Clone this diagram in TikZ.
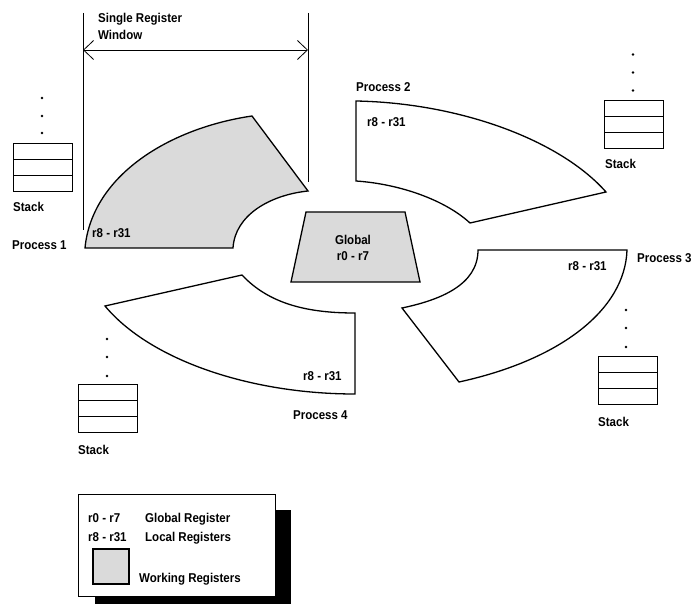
\documentclass[tikz,border=0pt]{standalone}
\usepackage{fontspec}
\setmainfont{Liberation Sans}[FakeStretch=0.9]
\usetikzlibrary{arrows.meta}
\definecolor{regfill}{RGB}{218,218,218}
\begin{document}
\begin{tikzpicture}[x=1pt,y=-1pt,
  lbl/.style={font=\fontsize{12.8}{14}\selectfont\bfseries, inner sep=0pt, anchor=base west},
  seg/.style={draw=black, line width=1.3pt, line join=miter},
  stackbox/.style={draw=black, line width=0.8pt},
  thinline/.style={draw=black, line width=0.8pt},
  dotmark/.style={fill=black, circle, inner sep=0pt, minimum size=2.6pt}]
\useasboundingbox (0,0) rectangle (691,604);

% ---- register window segments ----
% Process 1 (working, gray)
\filldraw[seg, fill=regfill] (85,248) .. controls (92,175) and (170,128) .. (252,116)
  -- (308,191) .. controls (270,195) and (235,215) .. (233,248) -- cycle;
% Process 2
\draw[seg] (356,101) .. controls (460,103) and (560,140) .. (606,192)
  -- (470,223) .. controls (445,200) and (400,184) .. (356,181) -- cycle;
% Process 3
\draw[seg] (478,250) -- (627,250) .. controls (625,310) and (560,360) .. (459,382)
  -- (402,308) .. controls (440,300) and (478,285) .. (478,250) -- cycle;
% Process 4
\draw[seg] (105,306) -- (242,275) .. controls (270,305) and (310,313) .. (355,313)
  -- (355,394) .. controls (250,394) and (150,360) .. (105,306) -- cycle;

% ---- global ----
\filldraw[seg, fill=regfill] (306,212) -- (405,212) -- (420,282) -- (291,282) -- cycle;
\node[lbl, anchor=base] (glob) at (353,245) {Global};
\node[lbl, anchor=base] (globr) at (353,261) {r0 - r7};

% ---- single register window ----
\coordinate (wl1) at (83,13);
\coordinate (wl2) at (83,230);
\coordinate (wr1) at (308,13);
\coordinate (wr2) at (308,182);
\draw[thinline] (wl1) -- (wl2);
\draw[thinline] (wr1) -- (wr2);
\coordinate (al) at (83,50);
\coordinate (ar) at (308,50);
\draw[thinline, {Straight Barb[length=10pt,width=19pt]}-{Straight Barb[length=10pt,width=19pt]}] (al) -- (ar);
\node[lbl] (srw1) at (98,22.5) {Single Register};
\node[lbl] (srw2) at (98,40) {Window};

% ---- labels in segments ----
\node[lbl] (p1) at (12,250) {Process 1};
\node[lbl] (r1) at (92,238) {r8 - r31};
\node[lbl] (p2) at (356,92) {Process 2};
\node[lbl] (r2) at (367,126.5) {r8 - r31};
\node[lbl] (p3) at (637,262.5) {Process 3};
\node[lbl] (r3) at (568,270) {r8 - r31};
\node[lbl] (p4) at (293,419) {Process 4};
\node[lbl] (r4) at (303,380.5) {r8 - r31};

% ---- stacks ----
% stack 1
\draw[stackbox] (13,143) rectangle (72,191);
\draw[stackbox] (13,159) -- (72,159);
\draw[stackbox] (13,175) -- (72,175);
\node[dotmark] (s1a) at (42,98) {};
\node[dotmark] (s1b) at (42,116) {};
\node[dotmark] (s1c) at (42,133) {};
\node[lbl] (s1) at (13,211.5) {Stack};
% stack 2
\draw[stackbox] (604,100) rectangle (663,148);
\draw[stackbox] (604,116) -- (663,116);
\draw[stackbox] (604,132) -- (663,132);
\node[dotmark] (s2a) at (633,54.5) {};
\node[dotmark] (s2b) at (633,72.5) {};
\node[dotmark] (s2c) at (633,90.5) {};
\node[lbl] (s2) at (605,169) {Stack};
% stack 3
\draw[stackbox] (598,356) rectangle (657,404);
\draw[stackbox] (598,372) -- (657,372);
\draw[stackbox] (598,388) -- (657,388);
\node[dotmark] (s3a) at (626,310) {};
\node[dotmark] (s3b) at (626,328) {};
\node[dotmark] (s3c) at (626,347) {};
\node[lbl] (s3) at (598,426.5) {Stack};
% stack 4
\draw[stackbox] (78,384) rectangle (137,432.5);
\draw[stackbox] (78,400.5) -- (137,400.5);
\draw[stackbox] (78,416.5) -- (137,416.5);
\node[dotmark] (s4a) at (107,339) {};
\node[dotmark] (s4b) at (107,357) {};
\node[dotmark] (s4c) at (107,376) {};
\node[lbl] (s4) at (78,454) {Stack};

% ---- legend ----
\fill[black] (95,510) rectangle (291,606);
\draw[thinline, fill=white] (78,494) rectangle (275,596);
\node[lbl] (lg1) at (88,522.5) {r0 - r7};
\node[lbl] (lg2) at (145,522.5) {Global Register};
\node[lbl] (lg3) at (88,541.5) {r8 - r31};
\node[lbl] (lg4) at (145,541.5) {Local Registers};
\filldraw[draw=black, line width=1.2pt, fill=regfill] (93,549) rectangle (129,584);
\node[lbl] (lg5) at (139,582.5) {Working Registers};
\end{tikzpicture}
\end{document}
